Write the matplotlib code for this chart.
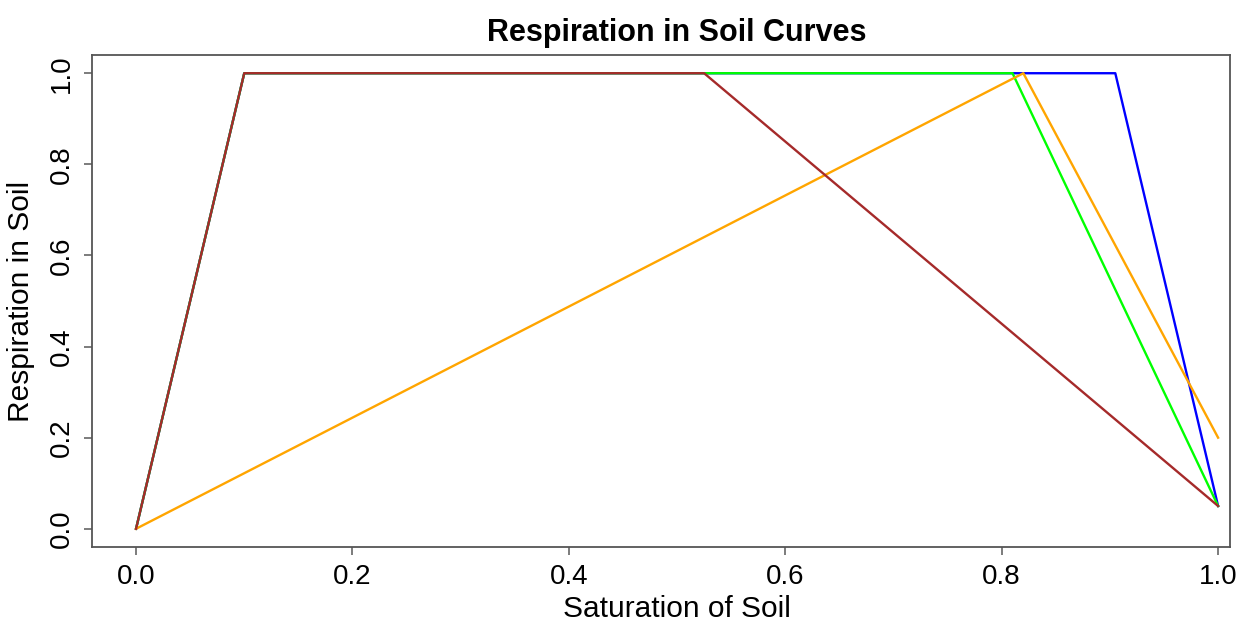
import matplotlib
matplotlib.use("Agg")
import matplotlib.pyplot as plt

plt.rcParams['font.family'] = ['Liberation Sans', 'DejaVu Sans']

# curve vertices (saturation, respiration)
blue_x = [0.0, 0.1, 0.905, 1.0]
blue_y = [0.0, 1.0, 1.0, 0.05]
green_x = [0.0, 0.1, 0.81, 1.0]
green_y = [0.0, 1.0, 1.0, 0.05]
orange_x = [0.0, 0.82, 1.0]
orange_y = [0.0, 1.0, 0.2]
brown_x = [0.0, 0.1, 0.525, 1.0]
brown_y = [0.0, 1.0, 1.0, 0.05]

ticks = [0.0, 0.2, 0.4, 0.6, 0.8, 1.0]
tick_labels = ["0.0", "0.2", "0.4", "0.6", "0.8", "1.0"]

fig = plt.figure(figsize=(12.59, 6.27), dpi=100)
ax = fig.add_axes([92 / 1259, 1 - 547 / 627, (1230 - 92) / 1259, (547 - 55) / 627])

ax.plot(blue_x, blue_y, color='#0000FF', lw=1.7)
ax.plot(green_x, green_y, color='#00FF00', lw=1.7)
ax.plot(orange_x, orange_y, color='#FFA500', lw=1.7)
ax.plot(brown_x, brown_y, color='#A52A2A', lw=1.7)

ax.set_xlim(-0.0407, 1.011)
ax.set_ylim(-0.04, 1.04)

ax.set_xticks(ticks)
ax.set_xticklabels(tick_labels)
ax.set_yticks(ticks)
ax.set_yticklabels(tick_labels, rotation=90, va='center')

for s in ax.spines.values():
    s.set_color('#555555')
    s.set_linewidth(1.3)
ax.tick_params(direction='out', length=6, width=1.2, color='#666666',
               labelsize=20, pad=6)

# title and x label sit a little right of the box centre in the original
cx = (677 - 92) / (1230 - 92)
ax.set_xlabel("Saturation of Soil", fontsize=21.5)
ax.xaxis.set_label_coords(cx, -0.097)
ax.set_ylabel("Respiration in Soil", fontsize=21.5)
ax.yaxis.set_label_coords(-0.050, 0.5)
ax.set_title("Respiration in Soil Curves", fontsize=22, fontweight='bold',
             pad=10, x=cx)

fig.savefig("out.png", dpi=100)
